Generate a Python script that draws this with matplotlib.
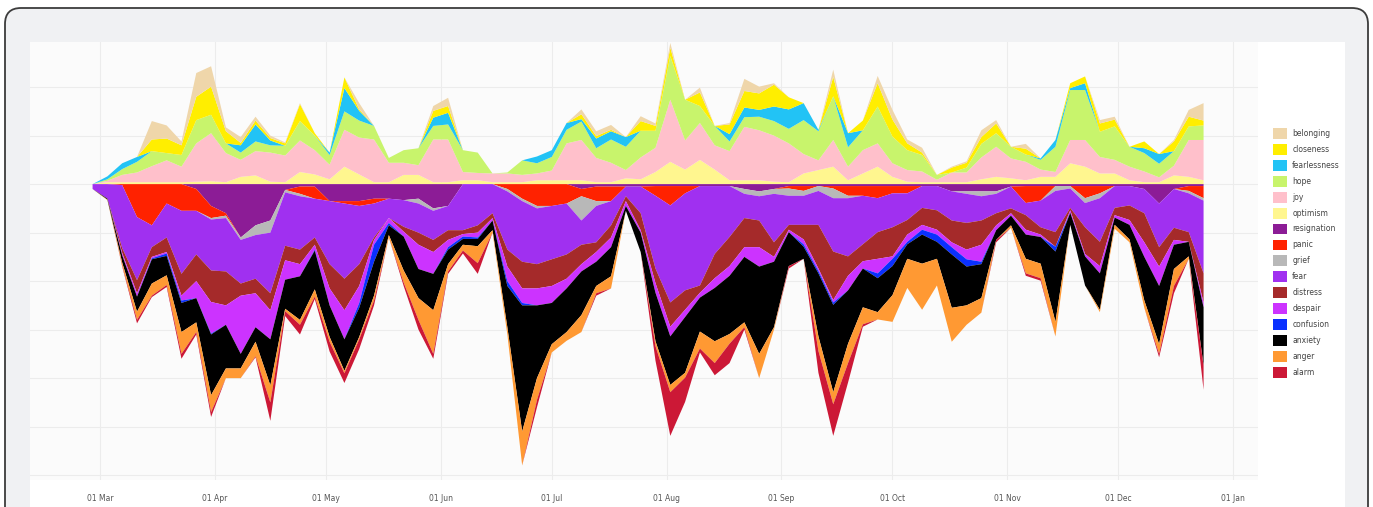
import matplotlib
matplotlib.use("Agg")
import matplotlib.pyplot as plt
import matplotlib.dates as mdates
from matplotlib.patches import FancyBboxPatch, Rectangle, Patch
from matplotlib.transforms import IdentityTransform
import numpy as np
import pandas as pd

# dias amostrados (a cada 4 dias, 28 fev -> 24 dez)
datas = pd.date_range("2020-02-28", periods=76, freq="4D")

# emocoes positivas (empilhadas para cima a partir do zero)
optimism = [0, 0.04, 0.04, 0.04, 0.04, 0.04, 0.04, 0.05, 0.06, 0.04,
            0.15, 0.18, 0.05, 0.04, 0.25, 0.2, 0.1, 0.36, 0.2, 0.04,
            0.04, 0.19, 0.19, 0.04, 0.04, 0.08, 0.08, 0.04, 0.04, 0.04,
            0.08, 0.08, 0.08, 0.08, 0.04, 0.04, 0.12, 0.1, 0.25, 0.46,
            0.3, 0.5, 0.3, 0.08, 0.08, 0.08, 0.05, 0.04, 0.22, 0.29,
            0.36, 0.08, 0.22, 0.36, 0.15, 0.05, 0.04, 0.04, 0.04, 0.04,
            0.1, 0.15, 0.12, 0.08, 0.15, 0.15, 0.43, 0.36, 0.22, 0.22,
            0.08, 0.04, 0.04, 0.18, 0.15, 0.08]
joy = [0, 0.03, 0.15, 0.2, 0.33, 0.45, 0.32, 0.79, 0.99, 0.6,
       0.35, 0.5, 0.6, 0.55, 0.65, 0.5, 0.3, 0.76, 0.76, 0.88,
       0.4, 0.25, 0.2, 0.88, 0.88, 0.17, 0.15, 0.18, 0.18, 0.15,
       0.14, 0.2, 0.76, 0.83, 0.5, 0.4, 0.17, 0.45, 0.5, 1.28,
       0.6, 0.76, 0.5, 0.6, 1.1, 1.03, 0.95, 0.8, 0.4, 0.2,
       0.55, 0.28, 0.48, 0.48, 0.28, 0.24, 0.22, 0.05, 0.2, 0.2,
       0.45, 0.62, 0.41, 0.38, 0.15, 0.1, 0.48, 0.55, 0.34, 0.28,
       0.28, 0.22, 0.1, 0.2, 0.76, 0.83]
hope = [0, 0.03, 0.12, 0.22, 0.31, 0.15, 0.24, 0.48, 0.38, 0.2,
        0.15, 0.2, 0.15, 0.2, 0.4, 0.3, 0.2, 0.38, 0.35, 0.28,
        0.1, 0.26, 0.35, 0.28, 0.31, 0.45, 0.42, 0, 0.02, 0.3,
        0.21, 0.28, 0.28, 0.38, 0.2, 0.48, 0.48, 0.55, 0.35, 0.9,
        0.84, 0.35, 0.4, 0.2, 0.2, 0.28, 0.3, 0.3, 0.7, 0.6,
        0.9, 0.4, 0.41, 0.76, 0.55, 0.41, 0.34, 0.1, 0, 0.1,
        0.28, 0.28, 0.24, 0.15, 0.2, 0.52, 1.03, 1.03, 0.52, 0.69,
        0.41, 0.38, 0.28, 0.3, 0.28, 0.3]
fearlessness = [0, 0.06, 0.12, 0.1, 0, 0, 0, 0, 0, 0,
                0.15, 0.35, 0.1, 0, 0, 0, 0.05, 0.48, 0.2, 0,
                0, 0, 0, 0.17, 0.24, 0, 0, 0, 0, 0,
                0.14, 0.14, 0.14, 0.05, 0.2, 0.17, 0.2, 0, 0, 0,
                0, 0, 0, 0.15, 0.2, 0.14, 0.3, 0.4, 0.35, 0.03,
                0, 0.29, 0, 0, 0, 0, 0, 0, 0, 0,
                0, 0, 0, 0, 0.03, 0.14, 0.04, 0.14, 0, 0,
                0, 0.1, 0.2, 0, 0, 0]
closeness = [0, 0, 0, 0, 0.24, 0.3, 0.2, 0.48, 0.58, 0.25,
             0.05, 0.08, 0.05, 0.05, 0.35, 0.05, 0, 0.22, 0.03, 0,
             0, 0, 0, 0.14, 0.14, 0, 0, 0, 0, 0,
             0, 0, 0, 0.1, 0.05, 0.03, 0, 0.2, 0.1, 0.17,
             0, 0.28, 0, 0.2, 0.34, 0.34, 0.45, 0.25, 0, 0,
             0.4, 0, 0.2, 0.48, 0.35, 0.14, 0.05, 0, 0.1, 0.1,
             0.14, 0.2, 0, 0.12, 0, 0, 0.1, 0.14, 0.17, 0.14,
             0, 0.14, 0, 0.2, 0.2, 0.1]
belonging = [0, 0, 0, 0, 0.38, 0.27, 0.08, 0.49, 0.42, 0.08,
             0.12, 0.08, 0.05, 0.02, 0.02, 0, 0, 0, 0.13, 0,
             0, 0, 0, 0.1, 0.17, 0, 0, 0, 0, 0,
             0, 0, 0, 0.1, 0.1, 0.1, 0, 0.1, 0.05, 0.1,
             0, 0.1, 0, 0.03, 0.25, 0.14, 0.03, 0, 0, 0,
             0.15, 0, 0, 0.15, 0.2, 0.08, 0.1, 0, 0.02, 0.03,
             0.14, 0.07, 0, 0.1, 0, 0, 0, 0, 0.07, 0.06,
             0, 0, 0, 0.03, 0.14, 0.36]

# emocoes negativas (empilhadas para baixo a partir do zero)
resignation = [0, 0, 0, 0, 0, 0, 0, 0.1, 0.45, 0.6,
               1.1, 0.85, 0.75, 0.12, 0.05, 0.05, 0.35, 0.35, 0.35, 0.3,
               0.3, 0.33, 0.3, 0.5, 0.45, 0, 0, 0, 0, 0,
               0, 0, 0, 0.1, 0.05, 0.05, 0.05, 0.05, 0.04, 0.04,
               0.04, 0.04, 0.04, 0.04, 0.1, 0.15, 0.1, 0.04, 0.04, 0.04,
               0.04, 0.04, 0.04, 0.04, 0.04, 0.04, 0.04, 0.04, 0.15, 0.15,
               0.15, 0.15, 0.05, 0.04, 0.04, 0.04, 0.04, 0.04, 0.04, 0.04,
               0.04, 0.1, 0.4, 0.1, 0.04, 0.04]
panic = [0, 0, 0.02, 0.68, 0.85, 0.4, 0.55, 0.45, 0.25, 0.05,
         0, 0, 0, 0, 0.15, 0.25, 0, 0.05, 0.1, 0.1,
         0, 0, 0, 0, 0, 0, 0, 0, 0.1, 0.3,
         0.45, 0.45, 0.4, 0.15, 0.3, 0.3, 0, 0, 0.2, 0.4,
         0.15, 0, 0, 0, 0, 0, 0, 0.05, 0.1, 0,
         0.05, 0.2, 0.2, 0.25, 0.15, 0.15, 0, 0, 0, 0,
         0, 0, 0, 0.35, 0.3, 0, 0, 0.25, 0.15, 0,
         0, 0, 0, 0, 0.1, 0.25]
grief = [0, 0, 0, 0, 0, 0, 0, 0, 0.03, 0.05,
         0.05, 0.2, 0.25, 0.05, 0.05, 0, 0, 0, 0, 0,
         0, 0, 0.1, 0.05, 0, 0, 0, 0, 0.05, 0.05,
         0.05, 0, 0, 0.5, 0.1, 0, 0, 0, 0, 0,
         0, 0, 0, 0, 0.1, 0.1, 0.1, 0.15, 0.1, 0.1,
         0.2, 0.05, 0, 0, 0, 0, 0, 0, 0, 0.05,
         0.1, 0.05, 0, 0, 0, 0.1, 0.05, 0.1, 0.1, 0,
         0, 0, 0, 0, 0.05, 0.05]
fear = [0.1, 0.3, 1.3, 1.3, 0.45, 0.7, 1.3, 0.9, 1.05, 1.1,
        0.9, 0.9, 1.25, 1.1, 1.1, 0.8, 1.3, 1.55, 1.2, 0.7,
        0.4, 0.55, 0.6, 0.6, 0.5, 0.95, 0.85, 0.6, 1.2, 1.25,
        1.15, 1.1, 1.05, 0.5, 0.75, 0.5, 0.2, 0.55, 1.5, 2.0,
        2.0, 2.05, 1.4, 1.05, 0.5, 0.5, 1.0, 0.6, 0.6, 0.7,
        1.1, 1.2, 1.0, 0.7, 0.7, 0.55, 0.45, 0.5, 0.6, 0.6,
        0.5, 0.4, 0.45, 0.25, 0.55, 0.85, 0.4, 0.5, 0.9, 0.45,
        0.4, 0.5, 0.9, 0.8, 0.8, 1.5]
distress = [0, 0, 0.1, 0.27, 0.2, 0.3, 0.45, 0.55, 0.65, 0.7,
            0.25, 0.3, 0.35, 0.3, 0.3, 0.15, 0.5, 0.65, 0.45, 0.05,
            0, 0.1, 0.25, 0.25, 0.2, 0.08, 0.15, 0.1, 0.35, 0.55,
            0.5, 0.55, 0.5, 0.4, 0.2, 0.25, 0.1, 0.35, 0.3, 0.5,
            0.4, 0.15, 0.5, 0.6, 0.6, 0.55, 0.3, 0.1, 0.3, 0.9,
            1.0, 0.4, 0.35, 0.55, 0.6, 0.3, 0.35, 0.4, 0.45, 0.55,
            0.5, 0.25, 0.1, 0.3, 0.15, 0.3, 0.05, 0.55, 0.5, 0.15,
            0.3, 0.6, 0.4, 0.25, 0.2, 0.6]
despair = [0, 0, 0.05, 0.07, 0.03, 0.03, 0.1, 0.35, 0.65, 0.4,
           1.2, 0.7, 0.6, 0.4, 0.25, 0.1, 0.35, 0.6, 0.35, 0.1,
           0.1, 0.1, 0.5, 0.45, 0.15, 0.05, 0.1, 0.05, 0.3, 0.3,
           0.35, 0.35, 0.2, 0.15, 0.2, 0.2, 0.1, 0.05, 0.2, 0.2,
           0.15, 0.1, 0.2, 0.2, 0.2, 0.4, 0.1, 0.05, 0.1, 0.05,
           0.05, 0.3, 0.15, 0.3, 0.05, 0.15, 0.1, 0.1, 0.1, 0.2,
           0.35, 0.1, 0.05, 0.1, 0.05, 0, 0.05, 0.05, 0.15, 0.05,
           0.1, 0.3, 0.4, 0.1, 0, 0.1]
confusion = [0, 0, 0, 0, 0.02, 0.05, 0.05, 0, 0.02, 0,
             0, 0, 0, 0, 0, 0.02, 0, 0, 0.1, 0.35,
             0.05, 0, 0, 0, 0.05, 0.05, 0.03, 0, 0.1, 0.05,
             0, 0, 0, 0, 0, 0, 0, 0, 0, 0,
             0, 0, 0, 0, 0, 0, 0, 0, 0.05, 0.05,
             0.05, 0, 0, 0.1, 0.15, 0.05, 0.1, 0.15, 0.15, 0.15,
             0.05, 0, 0, 0, 0, 0.1, 0, 0, 0, 0,
             0, 0, 0, 0, 0, 0]
anxiety = [0, 0.02, 0.15, 0.31, 0.5, 0.4, 0.6, 0.5, 1.25, 0.9,
           0.3, 0.3, 0.95, 0.6, 0.9, 0.8, 0.65, 0.65, 0.6, 0.7,
           0.2, 0.7, 0.6, 0.75, 0.3, 0.12, 0.15, 0.2, 0.85, 2.6,
           1.5, 0.85, 0.9, 0.9, 0.5, 0.6, 0.1, 0.4, 1.0, 1.0,
           1.15, 0.7, 1.1, 1.2, 1.35, 1.8, 1.35, 0.7, 0.25, 1.3,
           1.8, 1.1, 0.8, 0.7, 0.6, 0.3, 0.6, 0.35, 1.1, 0.8,
           0.7, 0.2, 0.2, 0.5, 0.55, 1.45, 0.25, 0.6, 0.75, 0.15,
           0.3, 0.9, 1.2, 0.5, 0.3, 1.2]
anger = [0, 0.01, 0.06, 0.17, 0.25, 0.2, 0.45, 0.2, 0.35, 0.2,
         0.2, 0.3, 0.35, 0.05, 0.1, 0.15, 0.1, 0.05, 0.05, 0.1,
         0.05, 0.25, 0.45, 0.9, 0.15, 0.12, 0.35, 0.05, 0.15, 0.7,
         0.45, 0.17, 0.18, 0.35, 0.15, 0.25, 0, 0, 0.1, 0.15,
         0.1, 0.35, 0.45, 0.2, 0.1, 0.5, 0.05, 0, 0, 0.3,
         0.25, 0.4, 0.35, 0.15, 0.55, 0.6, 0.95, 0.55, 0.7, 0.4,
         0.3, 0, 0.05, 0.3, 0.3, 0.3, 0, 0, 0.05, 0.08,
         0.06, 0.15, 0.2, 0.35, 0.05, 0]
alarm = [0, 0, 0.02, 0.07, 0.03, 0.04, 0.1, 0.05, 0.1, 0,
         0, 0.02, 0.38, 0.1, 0.2, 0.05, 0.2, 0.2, 0.2, 0.1,
         0, 0.07, 0.2, 0.1, 0.05, 0.06, 0.22, 0, 0, 0,
         0.15, 0, 0, 0, 0.05, 0, 0, 0, 0.3, 0.9,
         0.5, 0.08, 0.25, 0.4, 0.05, 0, 0, 0.05, 0, 0.45,
         0.65, 0.4, 0.05, 0, 0, 0, 0, 0, 0, 0,
         0, 0.05, 0, 0.05, 0.05, 0, 0, 0, 0, 0,
         0, 0, 0.07, 0.15, 0, 0.5]

positivas = [("optimism", optimism, "#fff68f"),
             ("joy", joy, "#ffc0cb"),
             ("hope", hope, "#c8f46c"),
             ("fearlessness", fearlessness, "#22c3f5"),
             ("closeness", closeness, "#ffee00"),
             ("belonging", belonging, "#efd6aa")]
negativas = [("resignation", resignation, "#8c1c96"),
             ("panic", panic, "#ff2200"),
             ("grief", grief, "#b8b8b8"),
             ("fear", fear, "#a030f0"),
             ("distress", distress, "#a52a2a"),
             ("despair", despair, "#cc33ff"),
             ("confusion", confusion, "#0a30ff"),
             ("anxiety", anxiety, "#000000"),
             ("anger", anger, "#ff9933"),
             ("alarm", alarm, "#cc1836")]

W, H = 1373, 507
fig = plt.figure(figsize=(W / 100, H / 100), dpi=100)
fig.patch.set_facecolor("white")

# moldura arredondada cinza e painel branco
moldura = FancyBboxPatch((5, -40), 1363, H - 8 + 40,
                         boxstyle="round,pad=0,rounding_size=16",
                         transform=IdentityTransform(),
                         facecolor="#f0f1f3", edgecolor="#3c3c3c",
                         linewidth=1.3, zorder=-3)
painel = Rectangle((30, -10), 1315, H - 42 + 10, transform=IdentityTransform(),
                   facecolor="white", edgecolor="none", zorder=-2)
fig.patches.append(moldura)
fig.patches.append(painel)

ax = fig.add_axes([30 / W, (H - 480) / H, 1228 / W, 438 / H])
ax.set_facecolor("#fbfbfb")

x = mdates.date2num(datas)
ax.stackplot(x, *[v for _, v, _ in positivas],
             colors=[c for _, _, c in positivas], linewidth=0)
ax.stackplot(x, *[-np.array(v) for _, v, _ in negativas],
             colors=[c for _, _, c in negativas], linewidth=0)

mar1 = mdates.date2num(pd.Timestamp("2020-03-01"))
ax.set_xlim(mar1 - 18.9, mar1 + 312.7)
ax.set_ylim(-6.1, 2.93)

ax.xaxis.set_major_locator(mdates.MonthLocator())
ax.xaxis.set_major_formatter(mdates.DateFormatter("%d %b"))
ax.set_yticks(range(-6, 3))
ax.tick_params(axis="y", left=False, labelleft=False)
ax.tick_params(axis="x", length=0, pad=10, labelsize=5.5, labelcolor="#555555")
ax.grid(True, color="#ececec", linewidth=0.8)
ax.set_axisbelow(True)
for s in ax.spines.values():
    s.set_visible(False)

# legenda na ordem visual da pilha
ordem = positivas[::-1] + negativas
handles = [Patch(facecolor=c, edgecolor="none", label=n) for n, _, c in ordem]
fig.legend(handles=handles, loc="upper left",
           bbox_to_anchor=(1270 / W, 1 - 125 / H), frameon=False,
           fontsize=5.5, handlelength=1.8, handleheight=1.8,
           labelspacing=0.67, handletextpad=0.7, borderaxespad=0,
           labelcolor="#444444")

fig.savefig("out.png", dpi=100)
